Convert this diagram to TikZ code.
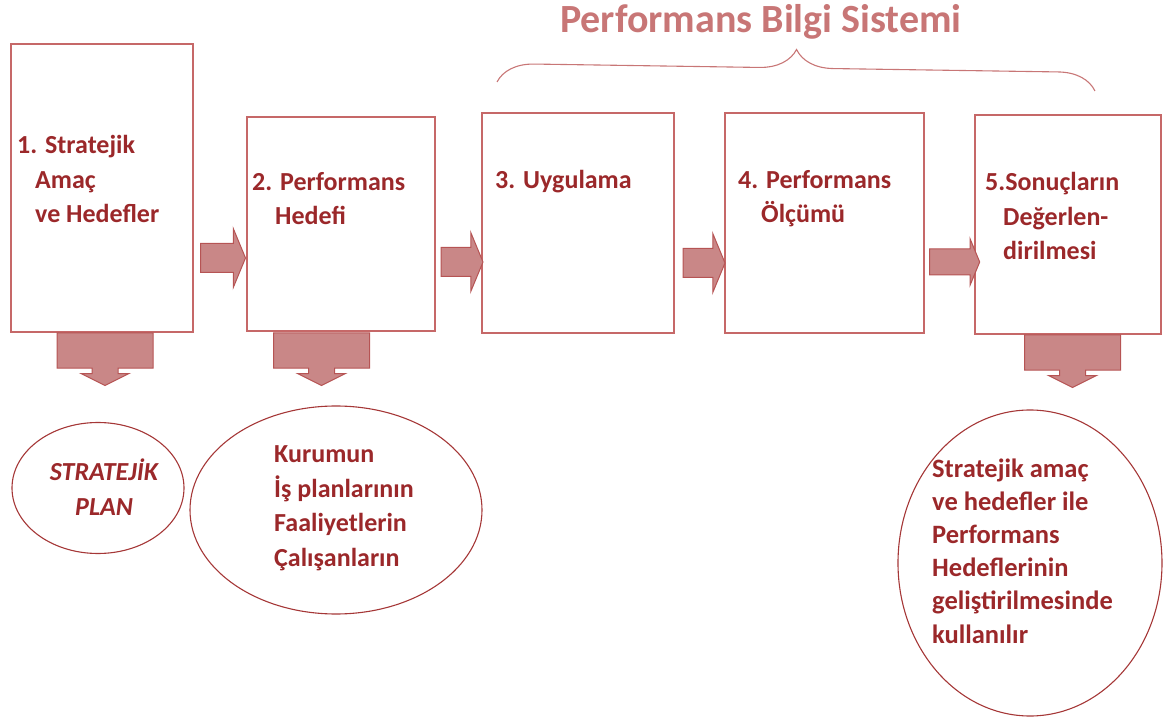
\documentclass[tikz,border=0pt]{standalone}
\usepackage{fontspec}
\setmainfont{Carlito}
\usepackage{tikz}
\usetikzlibrary{shapes.geometric,shapes.arrows,decorations.pathreplacing,positioning}

\definecolor{boxred}{RGB}{198,104,104}
\definecolor{textred}{RGB}{155,40,42}
\definecolor{arrowfill}{RGB}{201,135,135}
\definecolor{arrowline}{RGB}{182,84,84}
\definecolor{titlered}{RGB}{200,118,118}
\definecolor{ovalred}{RGB}{165,55,55}

\begin{document}
\begin{tikzpicture}[x=1pt, y=-1pt,
    stage/.style={draw=boxred, line width=1.6pt, anchor=north west, inner sep=0pt},
    steptext/.style={text=textred, font=\bfseries\fontsize{26}{34.5}\selectfont, align=left, anchor=base west, inner sep=0pt},
    flow/.style={single arrow, draw=arrowline, fill=arrowfill, line width=1pt, inner xsep=0pt, inner ysep=14pt,
        minimum height=43pt, single arrow head extend=15pt, single arrow tip angle=135},
    drop/.style={arrow box, draw=arrowline, fill=arrowfill, line width=1pt, inner sep=0pt,
        minimum width=96pt, minimum height=35pt, arrow box arrows={south:17pt}, arrow box shaft width=26pt,
        arrow box head extend=11pt, arrow box tip angle=127, arrow box head indent=0pt},
    oval/.style={ellipse, draw=ovalred, line width=1.1pt, inner sep=0pt},
    brace/.style={decorate, decoration={brace, amplitude=37pt}, draw=titlered, line width=1.1pt}]

    \useasboundingbox (0,0) rectangle (1163,722);

    % Title and brace
    \node [text=titlered, font=\bfseries\fontsize{40}{42}\selectfont, anchor=base] (pbs) at (761,33) {Performans Bilgi Sistemi};
    \draw [brace] (497,82) -- (1095,91);

    % Steps {s1, ..., s5}
    \node [stage, minimum width=182pt, minimum height=288pt] (s1) at (10,43)  {};
    \node [stage, minimum width=188pt, minimum height=214pt] (s2) at (246,116) {};
    \node [stage, minimum width=192pt, minimum height=220pt] (s3) at (481,112) {};
    \node [stage, minimum width=199pt, minimum height=220pt] (s4) at (724,112) {};
    \node [stage, minimum width=186pt, minimum height=219pt] (s5) at (974,114) {};

    % base anchor sits on the last line
    \node [steptext] (t1) at (17,223)  {1. Stratejik\\\hspace*{18pt}Amaç\\\hspace*{18pt}ve Hedefler};
    \node [steptext] (t2) at (252,225) {2. Performans\\\hspace*{23pt}Hedefi};
    \node [steptext] (t3) at (495,189) {3. Uygulama};
    \node [steptext] (t4) at (738,223) {4. Performans\\\hspace*{23pt}Ölçümü};
    \node [steptext] (t5) at (985,260) {5.Sonuçların\\\hspace*{18pt}Değerlen-\\\hspace*{18pt}dirilmesi};

    % Arrows between steps
    \node [flow, minimum height=45pt] (a12) at (220,258) {};
    \node [flow, minimum height=42pt] (a23) at (459,262) {};
    \node [flow, minimum height=42pt] (a34) at (701,263) {};
    \node [flow, minimum height=50pt, inner ysep=12.5pt, single arrow head extend=10pt] (a45) at (952,262) {};

    % Arrows down to outputs
    \node [drop] (d1) at (105,350.5)   {};
    \node [drop] (d2) at (321.5,350.5) {};
    \node [drop] (d5) at (1072.5,352.5) {};

    % Outputs
    \node [oval, minimum width=172pt, minimum height=131pt] (o1) at (98,488)   {};
    \node [oval, minimum width=292pt, minimum height=208pt] (o2) at (336,510)  {};
    \node [oval, minimum width=264pt, minimum height=306pt] (o5) at (1030,563) {};

    \node [steptext, align=center, anchor=base, font=\bfseries\itshape\fontsize{26}{35}\selectfont] (u1) at (104,515) {STRATEJİK\\PLAN};
    \node [steptext] (u2) at (274,566) {Kurumun\\İş planlarının\\Faaliyetlerin\\Çalışanların};
    \node [steptext, font=\bfseries\fontsize{26.5}{33.2}\selectfont] (u5) at (932,643) {Stratejik amaç\\ve hedefler ile\\Performans\\Hedeflerinin\\geliştirilmesinde\\kullanılır};

\end{tikzpicture}
\end{document}
